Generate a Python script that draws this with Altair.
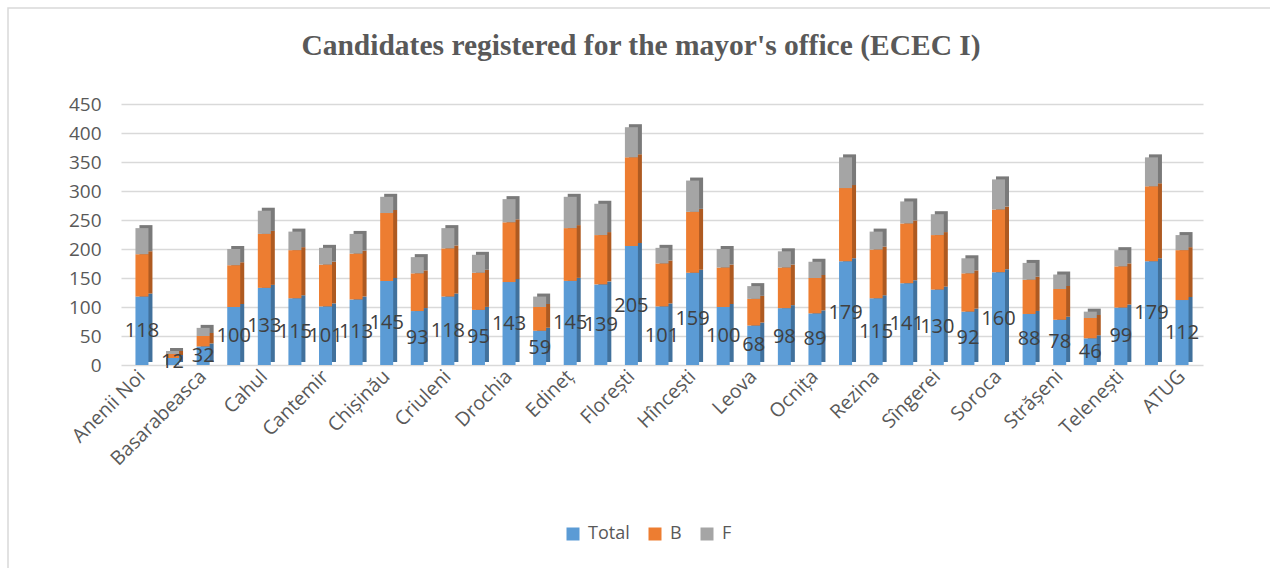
import altair as alt
import pandas as pd

# Districts in chart order
districts = [
    "Anenii Noi", "Bălți", "Basarabeasca", "Briceni", "Cahul", "Călărași",
    "Cantemir", "Căușeni", "Chișinău", "Cimișlia", "Criuleni", "Dondușeni",
    "Drochia", "Dubăsari", "Edineț", "Fălești", "Florești", "Glodeni",
    "Hîncești", "Ialoveni", "Leova", "Nisporeni", "Ocnița", "Orhei",
    "Rezina", "Rîșcani", "Sîngerei", "Șoldănești", "Soroca", "Ștefan Vodă",
    "Strășeni", "Taraclia", "Telenești", "Ungheni", "ATUG",
]

total = [118, 12, 32, 100, 133, 115, 101, 113, 145, 93, 118, 95, 143, 59, 145,
         139, 205, 101, 159, 100, 68, 98, 89, 179, 115, 141, 130, 92, 160, 88,
         78, 46, 99, 179, 112]
b_vals = [73, 7, 18, 72, 93, 83, 72, 79, 117, 65, 83, 64, 103, 41, 91,
          85, 153, 74, 105, 68, 46, 70, 61, 126, 84, 103, 94, 66, 108, 59,
          53, 35, 71, 129, 86]
f_vals = [45, 5, 14, 28, 40, 32, 29, 34, 28, 28, 35, 31, 40, 18, 54,
          54, 52, 27, 54, 32, 22, 28, 28, 53, 31, 38, 36, 26, 52, 29,
          25, 11, 28, 50, 26]

series = ["Total", "B", "F"]
front_colors = ["#5B9BD5", "#ED7D31", "#A5A5A5"]
side_colors = ["#41719C", "#AE5A21", "#7A7A7A"]
y_ticks = [0, 50, 100, 150, 200, 250, 300, 350, 400, 450]
title_text = "Candidates registered for the mayor's office (ECEC I)"

rows = []
for i, d in enumerate(districts):
    for k, (name, vals) in enumerate(zip(series, [total, b_vals, f_vals])):
        rows.append({"district": d, "series": name, "order": k, "value": vals[i]})
df = pd.DataFrame(rows)
df_total = pd.DataFrame({"district": districts, "value": total})

W, H = 1082, 261
LEFT, TOP = 121, 104
FONT = "Open Sans"
GREY_TEXT = "#595959"

x_axis = alt.Axis(
    values=districts[::2],
    labelAngle=315,
    labelAlign="right",
    labelBaseline="middle",
    labelFont=FONT,
    labelFontSize=19.5,
    labelColor=GREY_TEXT,
    labelPadding=8,
    labelOverlap=False,
    domain=False,
    ticks=False,
    grid=False,
)
y_axis = alt.Axis(
    values=y_ticks,
    labelFont=FONT,
    labelFontSize=19,
    labelColor=GREY_TEXT,
    labelPadding=20,
    labelOverlap=False,
    domain=False,
    ticks=False,
    grid=True,
    gridColor="#D9D9D9",
    gridWidth=1.5,
)
x_scale = alt.Scale(paddingInner=0.575, paddingOuter=0.4725)
y_scale = alt.Scale(domain=[0, 450], nice=False)

base = alt.Chart(df).encode(
    x=alt.X("district:N", sort=districts, title=None, scale=x_scale, axis=x_axis),
    y=alt.Y("value:Q", stack="zero", title=None, scale=y_scale, axis=y_axis),
    order=alt.Order("order:Q"),
)

# darker copy offset up/right gives the columns their side and top faces
side = base.mark_bar(xOffset=4, yOffset=-3).encode(
    color=alt.Color("series:N", scale=alt.Scale(domain=series, range=side_colors), legend=None)
)

front = base.mark_bar().encode(
    color=alt.Color(
        "series:N",
        scale=alt.Scale(domain=series, range=front_colors),
        legend=alt.Legend(
            title=None,
            orient="none",
            direction="horizontal",
            legendX=443,
            legendY=421,
            symbolType="square",
            symbolSize=169,
            symbolStrokeWidth=0,
            labelFont=FONT,
            labelFontSize=18,
            labelColor=GREY_TEXT,
            labelOffset=6,
            columnPadding=16,
        ),
    )
)

# Total value written in the middle of each blue segment
labels = (
    alt.Chart(df_total)
    .transform_calculate(mid="datum.value / 2")
    .mark_text(font=FONT, fontSize=20, color="#404040")
    .encode(
        x=alt.X("district:N", sort=districts, title=None, scale=x_scale, axis=x_axis),
        y=alt.Y("mid:Q", title=None, scale=y_scale, axis=y_axis),
        text=alt.Text("value:Q"),
    )
)

title = (
    alt.Chart(pd.DataFrame({"k": [0]}))
    .mark_text(
        text=title_text,
        font="Liberation Serif",
        fontSize=29.5,
        fontWeight="bold",
        color=GREY_TEXT,
        align="center",
        baseline="middle",
    )
    .encode(x=alt.value(641 - LEFT), y=alt.value(46 - TOP))
)

frame = (
    alt.Chart(pd.DataFrame({"k": [0]}))
    .mark_rect(fillOpacity=0, stroke="#D9D9D9", strokeWidth=1.5)
    .encode(x=alt.value(8 - LEFT), x2=alt.value(W + 200), y=alt.value(8 - TOP), y2=alt.value(H + 300))
)

chart = (
    alt.layer(frame, side, front, labels, title)
    .resolve_scale(color="independent")
    .properties(
        width=W,
        height=H,
        autosize=alt.AutoSizeParams(type="none"),
        padding={"left": LEFT, "top": TOP, "right": 1270 - LEFT - W, "bottom": 568 - TOP - H},
        background="white",
    )
    .configure_view(stroke=None)
)

chart.save("out.html", embed_options={"renderer": "svg", "actions": False})
